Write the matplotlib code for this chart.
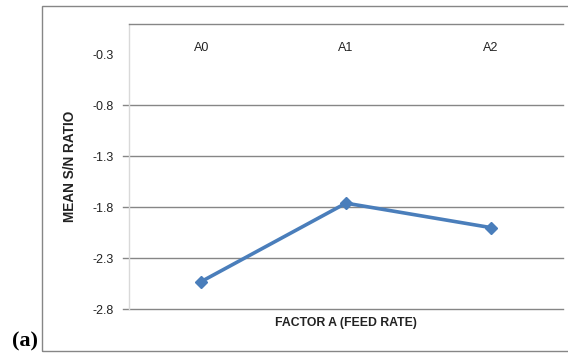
import matplotlib.pyplot as plt
from matplotlib.patches import Rectangle
from matplotlib.transforms import blended_transform_factory

# mean S/N ratio per level of factor A
levels = ["A0", "A1", "A2"]
mean_sn = [-2.53, -1.76, -2.0]
y_ticks = [-0.3, -0.8, -1.3, -1.8, -2.3, -2.8]
grid_values = [-0.8, -1.3, -1.8, -2.3, -2.8]

LINE_BLUE = "#4a7ebb"
GRID_GREY = "#868686"

plt.rcParams["font.family"] = ["Liberation Sans", "DejaVu Sans"]

fig = plt.figure(figsize=(5.68, 3.56), dpi=100)
ax = fig.add_axes([129 / 568, 1 - 309 / 356, 434 / 568, 285 / 356])

x = list(range(len(levels)))
ax.plot(x, mean_sn, color=LINE_BLUE, linewidth=2.6, marker="D", markersize=6.5,
        markerfacecolor=LINE_BLUE, markeredgecolor=LINE_BLUE, zorder=3)

ax.set_xlim(-0.5, len(levels) - 0.5)
ax.set_ylim(-2.8, 0.0)

# horizontal gridlines that run a little past the value axis as tick marks
trans = blended_transform_factory(ax.transAxes, ax.transData)
for v in grid_values:
    ax.plot([-6 / 434, 1.0], [v, v], color=GRID_GREY, linewidth=1.0,
            transform=trans, clip_on=False, zorder=1)

ax.set_yticks(y_ticks)
ax.set_yticklabels([f"{v:.1f}" for v in y_ticks])
ax.tick_params(axis="y", length=0, pad=11, labelsize=9, labelcolor="#222222")
ax.set_xticks([])

for side in ["right", "bottom"]:
    ax.spines[side].set_visible(False)
ax.spines["top"].set_color(GRID_GREY)
ax.spines["top"].set_linewidth(1.0)
ax.spines["left"].set_color("#d9d9d9")
ax.spines["left"].set_linewidth(1.0)

# category labels sit just under the top edge
cat_trans = blended_transform_factory(ax.transData, ax.transAxes)
for i, name in enumerate(levels):
    ax.text(i, 0.916, name, transform=cat_trans, ha="center", va="center",
            fontsize=9, color="#222222")

fig.text(346 / 568, 1 - 323 / 356, "FACTOR A (FEED RATE)", ha="center", va="center",
         fontsize=8.8, fontweight="bold", color="#222222")
fig.text(70 / 568, 1 - 166 / 356, "MEAN S/N RATIO", ha="center", va="center",
         rotation=90, fontsize=9.8, fontweight="bold", color="#222222")

# outer chart frame
fig.add_artist(Rectangle((42 / 568, 1 - 351 / 356), 1.0, 345 / 356,
                         transform=fig.transFigure, fill=False,
                         edgecolor=GRID_GREY, linewidth=1.0))

fig.text(25 / 568, 1 - 341 / 356, "(a)", ha="center", va="center",
         fontsize=16, fontweight="bold", family=["Liberation Serif", "DejaVu Serif"])

fig.savefig("out.png", dpi=100)
